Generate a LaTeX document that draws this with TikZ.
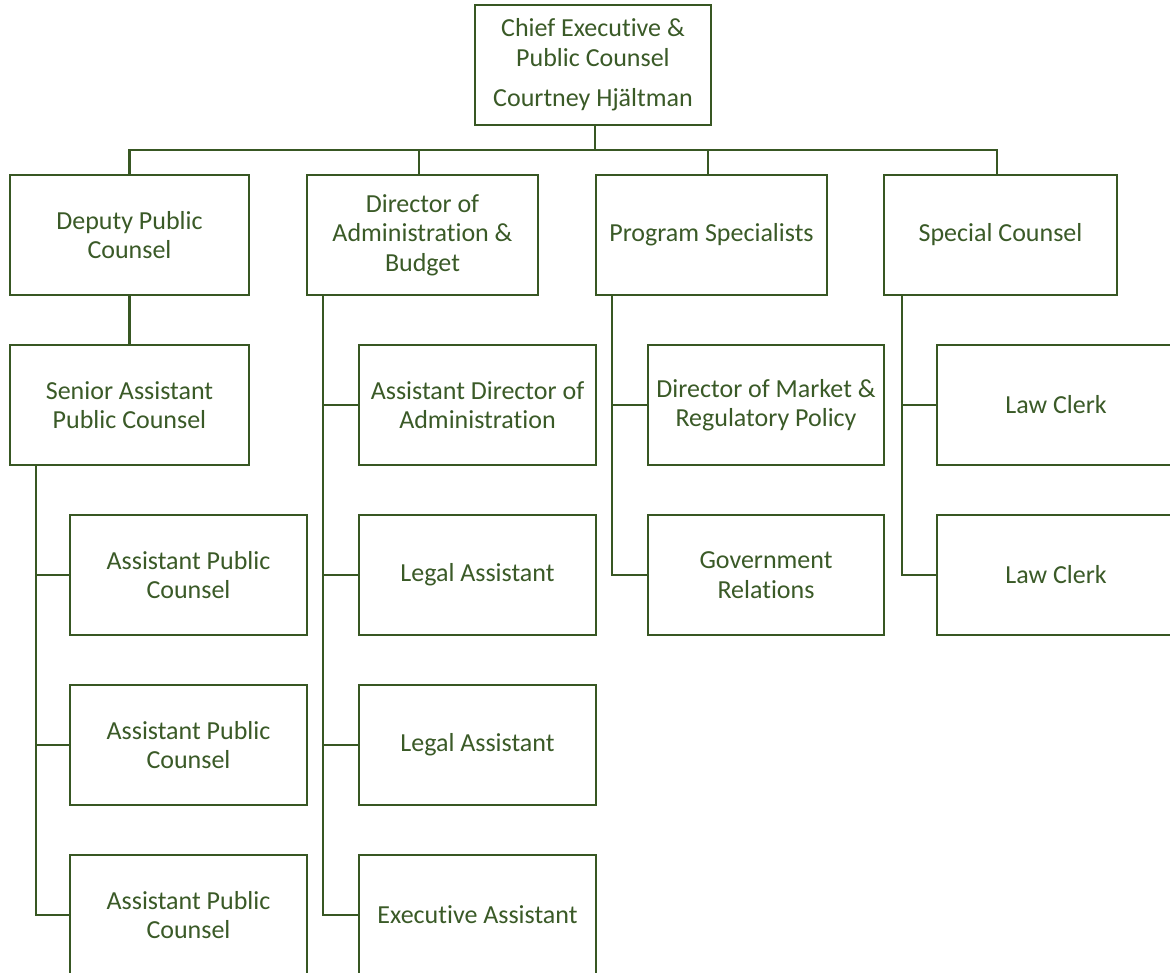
\documentclass[tikz,border=0pt]{standalone}
\usepackage{fontspec}
\setmainfont{Carlito}[Ligatures=NoCommon]
\definecolor{lineg}{HTML}{385723}
\definecolor{textg}{HTML}{3A5A27}
\tikzset{
  box/.style={draw=lineg, line width=2.8pt, fill=white, inner sep=0pt, outer sep=0pt,
    align=center, text=textg, font=\fontsize{26}{29.5}\selectfont,
    minimum height=120pt},
  conn/.style={draw=lineg, line width=2.8pt}
}
\begin{document}
\begin{tikzpicture}[x=1pt,y=-1pt]
\useasboundingbox (0,0) rectangle (1170,972);
\clip (0,0) rectangle (1170,972);
% top
\node[box, minimum width=236pt] (top) at (593,65) {Chief Executive \&\\Public Counsel\\[11pt]Courtney Hjältman};
% level 1
\node[box, minimum width=239pt] (dep) at (129.5,235) {Deputy Public\\Counsel};
\node[box, minimum width=231pt] (dir) at (422.5,235) {Director of\\Administration \&\\Budget};
\node[box, minimum width=231pt] (prog) at (711.5,235) {Program Specialists};
\node[box, minimum width=233pt] (spec) at (1000.5,235) {Special Counsel};
% level 2
\node[box, minimum width=239pt] (sen) at (129.5,405) {Senior Assistant\\Public Counsel};
\node[box, minimum width=237pt] (apc1) at (188.5,575) {Assistant Public\\Counsel};
\node[box, minimum width=237pt] (apc2) at (188.5,745) {Assistant Public\\Counsel};
\node[box, minimum width=237pt] (apc3) at (188.5,915) {Assistant Public\\Counsel};
\node[box, minimum width=237pt] (adir) at (477.5,405) {Assistant Director of\\Administration};
\node[box, minimum width=237pt] (la1) at (477.5,575) {Legal Assistant};
\node[box, minimum width=237pt] (la2) at (477.5,745) {Legal Assistant};
\node[box, minimum width=237pt] (ea) at (477.5,915) {Executive Assistant};
\node[box, minimum width=236pt] (dmr) at (766,405) {Director of Market \&\\Regulatory Policy};
\node[box, minimum width=236pt] (gov) at (766,575) {Government\\Relations};
\node[box, minimum width=238pt] (lc1) at (1056,405) {Law Clerk};
\node[box, minimum width=238pt] (lc2) at (1056,575) {Law Clerk};
% connectors
\coordinate (bus) at ([xshift=2pt,yshift=-25pt]top.south);
\draw[conn] ([xshift=2pt]top.south) -- (bus);
\draw[conn, line cap=rect] (dep.north) |- (bus) -| ([xshift=-3.5pt]spec.north);
\draw[conn] ([xshift=-3.5pt]dir.north) -- ([xshift=-3.5pt]dir.north |- bus);
\draw[conn] ([xshift=-3.5pt]prog.north) -- ([xshift=-3.5pt]prog.north |- bus);
\draw[conn] (dep.south) -- (sen.north);
\coordinate (sv) at ([xshift=26pt]sen.south west);
\draw[conn] (sv) |- (apc1.west);
\draw[conn] (sv) |- (apc2.west);
\draw[conn] (sv) |- (apc3.west);
\coordinate (dv) at ([xshift=16pt]dir.south west);
\draw[conn] (dv) |- (adir.west);
\draw[conn] (dv) |- (la1.west);
\draw[conn] (dv) |- (la2.west);
\draw[conn] (dv) |- (ea.west);
\coordinate (pv) at ([xshift=16pt]prog.south west);
\draw[conn] (pv) |- (dmr.west);
\draw[conn] (pv) |- (gov.west);
\coordinate (cv) at ([xshift=18pt]spec.south west);
\draw[conn] (cv) |- (lc1.west);
\draw[conn] (cv) |- (lc2.west);
\end{tikzpicture}
\end{document}
